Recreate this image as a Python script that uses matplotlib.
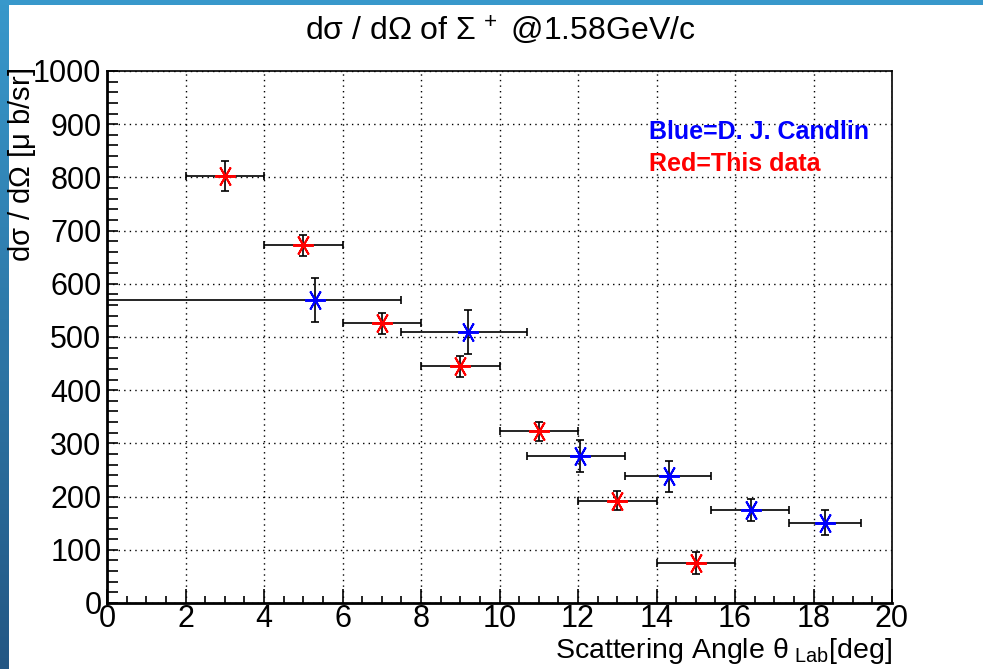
import numpy as np
import matplotlib
matplotlib.use('Agg')
import matplotlib.pyplot as plt
from matplotlib.ticker import MultipleLocator
from matplotlib.colors import LinearSegmentedColormap

plt.rcParams['font.family'] = ['Liberation Sans', 'DejaVu Sans']
plt.rcParams['mathtext.fontset'] = 'custom'
plt.rcParams['mathtext.default'] = 'regular'
plt.rcParams['mathtext.rm'] = 'Liberation Sans'

# Red = this data
red_x = [3, 5, 7, 9, 11, 13, 15]
red_y = [803, 672, 526, 445, 323, 192, 75]
red_xerr = [1, 1, 1, 1, 1, 1, 1]
red_yerr = [28, 20, 20, 20, 18, 18, 20]

# Blue = D. J. Candlin
blue_x = [5.3, 9.2, 12.05, 14.33, 16.4, 18.3]
blue_y = [570, 509, 276, 238, 175, 151]
blue_xlo = [0.0, 7.5, 10.7, 13.2, 15.4, 17.37]
blue_xhi = [7.5, 10.7, 13.2, 15.4, 17.37, 19.2]
blue_yerr = [41, 41, 30, 29, 21, 23]

W, H = 983, 669
fig = plt.figure(figsize=(W / 100, H / 100), dpi=100)

# blue frame strips (slide background)
grad = np.linspace(0, 1, 256).reshape(-1, 1)
cm = LinearSegmentedColormap.from_list('edge', ['#3898cb', '#235784'])
sax = fig.add_axes([0, 0, 9 / W, 1])
sax.imshow(grad, aspect='auto', cmap=cm)
sax.axis('off')
tax = fig.add_axes([0, 1 - 5 / H, 1, 5 / H])
tax.axis('off')
tax.add_patch(plt.Rectangle((0, 0), 1, 1, transform=tax.transAxes, color='#3898cb'))

ax = fig.add_axes([107 / W, 1 - 603 / H, (892 - 107) / W, (603 - 71) / H])

blue_x = np.array(blue_x)
xerr_b = [blue_x - np.array(blue_xlo), np.array(blue_xhi) - blue_x]

ax.errorbar(red_x, red_y, xerr=red_xerr, yerr=red_yerr, fmt='none',
            ecolor='black', elinewidth=1.2, capsize=3, capthick=1.2)
ax.errorbar(blue_x, blue_y, xerr=xerr_b, yerr=blue_yerr, fmt='none',
            ecolor='black', elinewidth=1.2, capsize=3, capthick=1.2)
ax.plot(red_x, red_y, ls='none', marker=(6, 2, 30), ms=15, mew=1.4, color='red', zorder=5)
ax.plot(blue_x, blue_y, ls='none', marker=(6, 2, 30), ms=15, mew=1.4, color='blue', zorder=5)

ax.set_xlim(0, 20)
ax.set_ylim(0, 1000)
ax.xaxis.set_major_locator(MultipleLocator(2))
ax.xaxis.set_minor_locator(MultipleLocator(0.5))
ax.yaxis.set_major_locator(MultipleLocator(100))
ax.yaxis.set_minor_locator(MultipleLocator(20))
ax.grid(True, which='major', color='black', linestyle=(0, (1, 3)), linewidth=1)
ax.tick_params(axis='both', which='both', direction='in', labelsize=22, width=1.2)
ax.tick_params(axis='x', which='major', length=10, pad=1)
ax.tick_params(axis='x', which='minor', length=5)
ax.tick_params(axis='y', which='major', length=8, pad=4)
ax.tick_params(axis='y', which='minor', length=8)
for s in ax.spines.values():
    s.set_linewidth(1.2)
ax.spines['bottom'].set_linewidth(2)
ax.spines['left'].set_linewidth(2)

ax.text(0.69, 0.885, 'Blue=D. J. Candlin', transform=ax.transAxes, color='blue',
        fontsize=18, fontweight='bold', va='center')
ax.text(0.69, 0.825, 'Red=This data', transform=ax.transAxes, color='red',
        fontsize=18, fontweight='bold', va='center')

fig.text(500 / W, 1 - 30 / H, r'd$\sigma$ / d$\Omega$ of $\Sigma^{\,+}$ @1.58GeV/c',
         ha='center', va='center', fontsize=23)
fig.text(22 / W, 1 - 68 / H, r'd$\sigma$ / d$\Omega$ [$\mu$ b/sr]', rotation=90,
         ha='center', va='top', fontsize=21)
fig.text(892 / W, 1 - 658 / H, r'Scattering Angle $\theta_{\ Lab}$[deg]',
         ha='right', va='baseline', fontsize=20.5)

fig.savefig('out.png', dpi=100)
